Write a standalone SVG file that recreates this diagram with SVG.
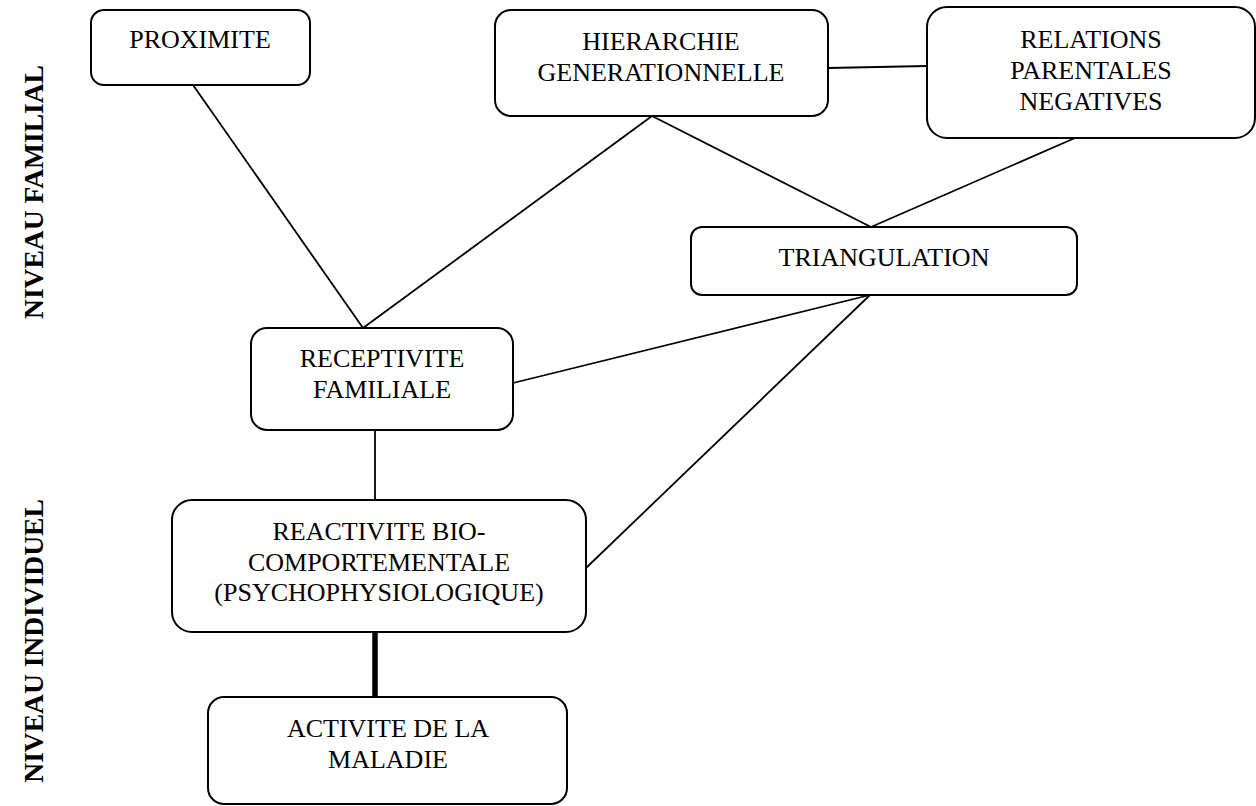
<svg xmlns="http://www.w3.org/2000/svg" width="1256" height="806" viewBox="0 0 1256 806">
  <style>
    .box { fill: #ffffff; stroke: #000000; stroke-width: 2; }
    .lbl { font-family: "Liberation Serif", "Times New Roman", serif; font-size: 26px; fill: #000000; text-anchor: middle; }
    .lvl { font-family: "Liberation Serif", "Times New Roman", serif; font-size: 27.5px; font-weight: bold; fill: #000000; text-anchor: middle; }
    .link { stroke: #000000; stroke-width: 1.8; fill: none; }
    .strong { stroke: #000000; stroke-width: 5.5; fill: none; }
  </style>
  <rect width="1256" height="806" fill="#ffffff"/>

  <!-- level captions -->
  <text class="lvl" transform="translate(43,192) rotate(-90)">NIVEAU FAMILIAL</text>
  <text class="lvl" transform="translate(43,641) rotate(-90)">NIVEAU INDIVIDUEL</text>

  <!-- connectors -->
  <g id="connectors">
    <line class="link" x1="193" y1="85" x2="363" y2="328"/>
    <line class="link" x1="652" y1="116" x2="363" y2="328"/>
    <line class="link" x1="828" y1="68" x2="927" y2="66"/>
    <line class="link" x1="652" y1="116" x2="871" y2="227"/>
    <line class="link" x1="1075" y1="138" x2="871" y2="227"/>
    <line class="link" x1="870" y1="295" x2="513" y2="383"/>
    <line class="link" x1="870" y1="295" x2="586" y2="568"/>
    <line class="link" x1="375" y1="430" x2="375" y2="500"/>
    <line class="strong" x1="375" y1="632" x2="375" y2="697"/>
  </g>

  <g id="proximite">
    <rect class="box" x="91" y="10" width="219" height="75" rx="13"/>
    <text class="lbl" x="200" y="48">PROXIMITE</text>
  </g>

  <g id="hierarchie">
    <rect class="box" x="495" y="10" width="333" height="106" rx="16"/>
    <text class="lbl" x="661" y="50">HIERARCHIE</text>
    <text class="lbl" x="661" y="81">GENERATIONNELLE</text>
  </g>

  <g id="relations">
    <rect class="box" x="927" y="7" width="328" height="131" rx="20"/>
    <text class="lbl" x="1091" y="48">RELATIONS</text>
    <text class="lbl" x="1091" y="79">PARENTALES</text>
    <text class="lbl" x="1091" y="110">NEGATIVES</text>
  </g>

  <g id="triangulation">
    <rect class="box" x="691" y="227" width="386" height="68" rx="11"/>
    <text class="lbl" x="884" y="266">TRIANGULATION</text>
  </g>

  <g id="receptivite">
    <rect class="box" x="251" y="328" width="262" height="102" rx="16"/>
    <text class="lbl" x="382" y="367">RECEPTIVITE</text>
    <text class="lbl" x="382" y="398">FAMILIALE</text>
  </g>

  <g id="reactivite">
    <rect class="box" x="172" y="500" width="414" height="132" rx="20"/>
    <text class="lbl" x="379" y="540">REACTIVITE BIO-</text>
    <text class="lbl" x="379" y="571">COMPORTEMENTALE</text>
    <text class="lbl" x="379" y="601">(PSYCHOPHYSIOLOGIQUE)</text>
  </g>

  <g id="activite">
    <rect class="box" x="208" y="697" width="359" height="107" rx="16"/>
    <text class="lbl" x="388" y="737">ACTIVITE DE LA</text>
    <text class="lbl" x="388" y="768">MALADIE</text>
  </g>
</svg>
